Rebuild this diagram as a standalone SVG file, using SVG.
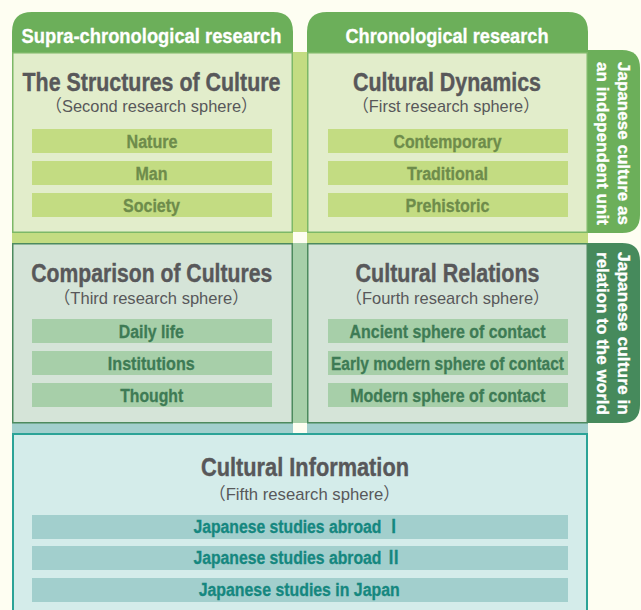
<svg xmlns="http://www.w3.org/2000/svg" width="641" height="610" viewBox="0 0 641 610">
<style>
text{font-family:"Liberation Sans",Arial,"Noto Sans CJK JP",sans-serif;text-anchor:middle}
.hd{font-size:21px;font-weight:bold;fill:#fff;stroke:#fff;stroke-width:0.3}
.tt{font-size:26px;font-weight:bold;fill:#58585a;stroke:#58585a;stroke-width:0.4}
.st{font-size:17px;fill:#58585a}
.b1{fill:#c3dc82}.b2{fill:#a7cfa9}.b3{fill:#a2cfcd}
.t1{font-size:18px;font-weight:bold;fill:#6e8c4b;stroke:#6e8c4b;stroke-width:0.3}
.t2{font-size:18px;font-weight:bold;fill:#3e7b55;stroke:#3e7b55;stroke-width:0.3}
.t3{font-size:18px;font-weight:bold;fill:#15877f;stroke:#15877f;stroke-width:0.3}
.vt{font-size:17px;font-weight:bold;fill:#fff;stroke:#fff;stroke-width:0.3}
</style>
<rect width="641" height="610" fill="#fefef2"/>
<g id="connectors">
<rect x="293" y="52" width="14" height="181" fill="#c3dc82"/>
<rect x="12" y="232" width="576" height="11" fill="#c3dc82"/>
<rect x="293" y="243" width="14" height="180" fill="#a7cfa9"/>
<rect x="12" y="423" width="576" height="10" fill="#a2cfcd"/>
<rect x="293" y="232" width="14" height="11" fill="#fefef2"/>
<rect x="293" y="423" width="14" height="10" fill="#fefef2"/>
</g>
<g id="tab-independent">
<path d="M587,50 H622 Q640,50 640,68 V215 Q640,233 622,233 H587 Z" fill="#6caf5a"/>
<text class="vt" transform="translate(618,143.5) rotate(90)" textLength="163" lengthAdjust="spacingAndGlyphs">Japanese culture as</text>
<text class="vt" transform="translate(597,143.5) rotate(90)" textLength="163" lengthAdjust="spacingAndGlyphs">an independent unit</text>
</g>
<g id="tab-world">
<path d="M587,243 H622 Q640,243 640,261 V405 Q640,423 622,423 H587 Z" fill="#468a5c"/>
<text class="vt" transform="translate(618,333.5) rotate(90)" textLength="163" lengthAdjust="spacingAndGlyphs">Japanese culture in</text>
<text class="vt" transform="translate(597,333.5) rotate(90)" textLength="163" lengthAdjust="spacingAndGlyphs">relation to the world</text>
</g>
<g id="header-supra">
<path d="M12,53 V32 Q12,12 32,12 H273 Q293,12 293,32 V53 Z" fill="#6caf5a"/>
<text class="hd" x="151.5" y="43.3" textLength="260" lengthAdjust="spacingAndGlyphs">Supra-chronological research</text>
</g>
<g id="header-chrono">
<path d="M307,53 V32 Q307,12 327,12 H568 Q588,12 588,32 V53 Z" fill="#6caf5a"/>
<text class="hd" x="447" y="43.3" textLength="203" lengthAdjust="spacingAndGlyphs">Chronological research</text>
</g>
<g id="structures">
<rect x="12.75" y="52.75" width="279.5" height="179.5" fill="#e2edcb" stroke="#7cb867" stroke-width="1.5"/>
<text class="tt" x="151.5" y="90.7" textLength="258" lengthAdjust="spacingAndGlyphs">The Structures of Culture</text>
<text class="st" x="151.5" y="111.7" textLength="212" lengthAdjust="spacingAndGlyphs">（Second research sphere）</text>
<rect class="b1" x="32" y="129" width="240" height="24"/>
<rect class="b1" x="32" y="161" width="240" height="24"/>
<rect class="b1" x="32" y="193" width="240" height="24"/>
<text class="t1" x="152" y="148.3" textLength="51" lengthAdjust="spacingAndGlyphs">Nature</text>
<text class="t1" x="151.5" y="180.3" textLength="32" lengthAdjust="spacingAndGlyphs">Man</text>
<text class="t1" x="151.5" y="212.3" textLength="57" lengthAdjust="spacingAndGlyphs">Society</text>
</g>
<g id="dynamics">
<rect x="307.75" y="52.75" width="279.5" height="179.5" fill="#e2edcb" stroke="#7cb867" stroke-width="1.5"/>
<text class="tt" x="447" y="90.7" textLength="188" lengthAdjust="spacingAndGlyphs">Cultural Dynamics</text>
<text class="st" x="446" y="111.7" textLength="187" lengthAdjust="spacingAndGlyphs">（First research sphere）</text>
<rect class="b1" x="328" y="129" width="240" height="24"/>
<rect class="b1" x="328" y="161" width="240" height="24"/>
<rect class="b1" x="328" y="193" width="240" height="24"/>
<text class="t1" x="447.5" y="148.3" textLength="108" lengthAdjust="spacingAndGlyphs">Contemporary</text>
<text class="t1" x="447.5" y="180.3" textLength="81" lengthAdjust="spacingAndGlyphs">Traditional</text>
<text class="t1" x="447.5" y="212.3" textLength="84" lengthAdjust="spacingAndGlyphs">Prehistoric</text>
</g>
<g id="comparison">
<rect x="12.75" y="243.75" width="279.5" height="179" fill="#d5e4d8" stroke="#4d8a5e" stroke-width="1.5"/>
<text class="tt" x="151.7" y="281.7" textLength="241" lengthAdjust="spacingAndGlyphs">Comparison of Cultures</text>
<text class="st" x="151.3" y="304" textLength="195" lengthAdjust="spacingAndGlyphs">（Third research sphere）</text>
<rect class="b2" x="32" y="319" width="240" height="24"/>
<rect class="b2" x="32" y="351" width="240" height="24"/>
<rect class="b2" x="32" y="383" width="240" height="24"/>
<text class="t2" x="151.3" y="338.3" textLength="65" lengthAdjust="spacingAndGlyphs">Daily life</text>
<text class="t2" x="151.3" y="370.3" textLength="87" lengthAdjust="spacingAndGlyphs">Institutions</text>
<text class="t2" x="151.7" y="402.3" textLength="63" lengthAdjust="spacingAndGlyphs">Thought</text>
</g>
<g id="relations">
<rect x="307.75" y="243.75" width="279.5" height="179" fill="#d5e4d8" stroke="#4d8a5e" stroke-width="1.5"/>
<text class="tt" x="447.5" y="281.7" textLength="184" lengthAdjust="spacingAndGlyphs">Cultural Relations</text>
<text class="st" x="447.5" y="304" textLength="204" lengthAdjust="spacingAndGlyphs">（Fourth research sphere）</text>
<rect class="b2" x="328" y="319" width="240" height="24"/>
<rect class="b2" x="328" y="351" width="240" height="24"/>
<rect class="b2" x="328" y="383" width="240" height="24"/>
<text class="t2" x="447.5" y="338.3" textLength="196" lengthAdjust="spacingAndGlyphs">Ancient sphere of contact</text>
<text class="t2" x="447.5" y="370.3" textLength="233" lengthAdjust="spacingAndGlyphs">Early modern sphere of contact</text>
<text class="t2" x="447.8" y="402.3" textLength="195" lengthAdjust="spacingAndGlyphs">Modern sphere of contact</text>
</g>
<g id="information">
<rect x="13" y="434" width="574" height="180" fill="#d4ecea" stroke="#2ba397" stroke-width="2"/>
<text class="tt" x="305" y="475.7" textLength="208" lengthAdjust="spacingAndGlyphs">Cultural Information</text>
<text class="st" x="304.5" y="500" textLength="191" lengthAdjust="spacingAndGlyphs">（Fifth research sphere）</text>
<rect class="b3" x="32" y="515" width="536" height="24"/>
<rect class="b3" x="32" y="546" width="536" height="24"/>
<rect class="b3" x="32" y="578" width="536" height="24"/>
<text class="t3" x="193.5" y="532.7" style="text-anchor:start" textLength="208" lengthAdjust="spacingAndGlyphs">Japanese studies abroad Ⅰ</text>
<text class="t3" x="193.5" y="563.7" style="text-anchor:start" textLength="208" lengthAdjust="spacingAndGlyphs">Japanese studies abroad Ⅱ</text>
<text class="t3" x="299.2" y="595.7" textLength="201" lengthAdjust="spacingAndGlyphs">Japanese studies in Japan</text>
</g>
</svg>
